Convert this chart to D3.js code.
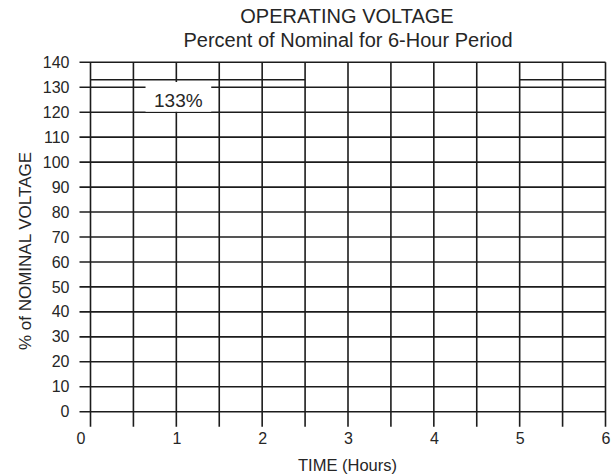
<!DOCTYPE html>
<html>
<head>
<meta charset="utf-8">
<script src="https://cdn.jsdelivr.net/npm/d3@7"></script>
<style>
  html, body { margin: 0; padding: 0; background: #fff; }
  text { font-family: "Liberation Sans", Arial, Helvetica, sans-serif; fill: #262626; }
</style>
</head>
<body>
<svg id="chart" width="612" height="475"></svg>
<script>
// ---- data ----
const hourTicks = [0, 1, 2, 3, 4, 5, 6];
const hourGrid = [0, 0.5, 1, 1.5, 2, 2.5, 3, 3.5, 4, 4.5, 5, 5.5, 6];
const voltageTicks = [0, 10, 20, 30, 40, 50, 60, 70, 80, 90, 100, 110, 120, 130, 140];
const limitStart = [0, 5];
const limitEnd = [2.5, 6];
const limitValue = [133, 133];
const limitLabel = "133%";
const limitLabelHour = 1;
const limitLabelValue = 124.5;

const titleText = "OPERATING VOLTAGE";
const subtitleText = "Percent of Nominal for 6-Hour Period";
const xTitle = "TIME (Hours)";
const yTitle = "% of NOMINAL VOLTAGE";

// ---- layout ----
const svg = d3.select("#chart");
const x = d3.scaleLinear().domain([0, 6]).range([90.5, 605.5]);
const y = d3.scaleLinear().domain([0, 140]).range([411.7, 62.3]);
const lineColor = "#1c1c1c";
const lw = 1.6;
const yTickLen = 11;
const xTickLen = 15;

const g = svg.append("g");

// horizontal grid lines (extending left as ticks)
g.selectAll("line.h").data(voltageTicks).join("line")
  .attr("class", "h")
  .attr("x1", x(0) - yTickLen).attr("x2", x(6))
  .attr("y1", d => y(d)).attr("y2", d => y(d))
  .attr("stroke", lineColor).attr("stroke-width", lw);

// vertical grid lines (extending below as ticks)
g.selectAll("line.v").data(hourGrid).join("line")
  .attr("class", "v")
  .attr("x1", d => x(d)).attr("x2", d => x(d))
  .attr("y1", y(140)).attr("y2", y(0) + xTickLen)
  .attr("stroke", lineColor).attr("stroke-width", lw);

// 133% limit segments
const segs = limitStart.map((s, i) => ({ s, e: limitEnd[i], v: limitValue[i] }));
g.selectAll("line.lim").data(segs).join("line")
  .attr("class", "lim")
  .attr("x1", d => x(d.s)).attr("x2", d => x(d.e))
  .attr("y1", d => y(d.v)).attr("y2", d => y(d.v))
  .attr("stroke", lineColor).attr("stroke-width", lw);

// label with white backing
const lblG = g.append("g");
const lblRect = lblG.append("rect").attr("fill", "#fff");
const lbl = lblG.append("text")
  .attr("x", x(limitLabelHour) + 2)
  .attr("y", y(limitLabelValue))
  .attr("text-anchor", "middle")
  .attr("dominant-baseline", "central")
  .style("font-size", "19px")
  .text(limitLabel);
const bb = lbl.node().getBBox();
lblRect.attr("x", bb.x - 8.5).attr("width", bb.width + 17)
  .attr("y", y(132.1)).attr("height", y(120.2) - y(132.1));

// axes (labels only)
const yAxis = d3.axisLeft(y).tickValues(voltageTicks).tickSize(0).tickPadding(10);
const yg = svg.append("g").attr("transform", `translate(${x(0) - yTickLen},0)`).call(yAxis);
yg.select(".domain").remove();
yg.selectAll("text").style("font-size", "16px").attr("fill", "#262626");

const xAxis = d3.axisBottom(x).tickValues(hourTicks).tickSize(0).tickPadding(21).tickFormat(d3.format("d"));
const xg = svg.append("g").attr("transform", `translate(0,${y(0)})`).call(xAxis);
xg.select(".domain").remove();
xg.selectAll("text").style("font-size", "16px").attr("fill", "#262626")
  .attr("dx", d => d === 0 ? -10 : 0);
svg.selectAll(".tick text").style("font-family", '"Liberation Sans", Arial, sans-serif');

// titles
svg.append("text").attr("x", 347).attr("y", 23).attr("text-anchor", "middle")
  .style("font-size", "20px").text(titleText);
svg.append("text").attr("x", 348).attr("y", 47).attr("text-anchor", "middle")
  .style("font-size", "20px").text(subtitleText);
svg.append("text").attr("x", 347.5).attr("y", 471).attr("text-anchor", "middle")
  .style("font-size", "16.5px").text(xTitle);
svg.append("text").attr("transform", "translate(31,251) rotate(-90)").attr("text-anchor", "middle")
  .style("font-size", "17px").text(yTitle);
</script>
</body>
</html>
